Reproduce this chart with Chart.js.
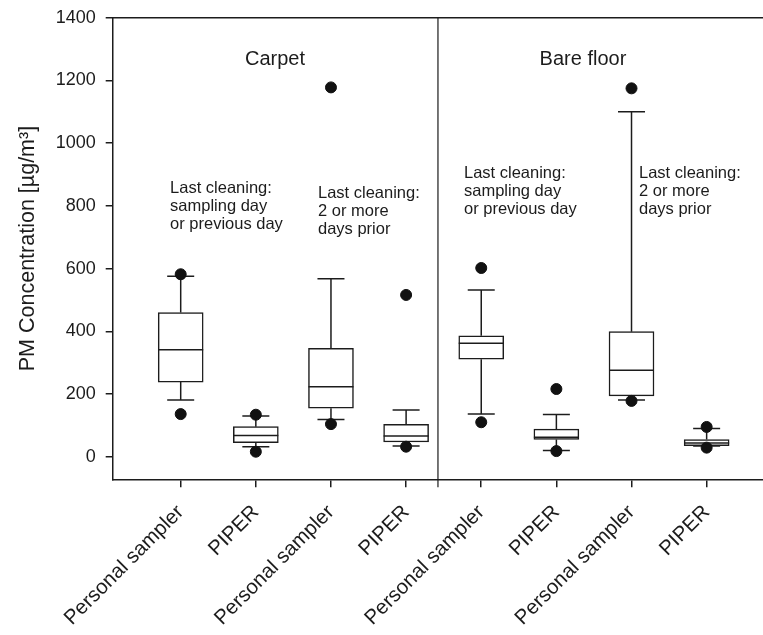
<!DOCTYPE html>
<html>
<head>
<meta charset="UTF-8">
<title>PM concentration - carpet vs bare floor</title>
<script src="https://cdn.jsdelivr.net/npm/chart.js"></script>
<style>
  body { margin: 0; background: #fff; }
  #wrap { width: 763px; height: 635px; }
</style>
</head>
<body>
<div id="wrap"><canvas id="chart" width="763" height="635"></canvas></div>
<script>
// categories along the x axis (one box each)
const categories = ['Personal sampler', 'PIPER', 'Personal sampler', 'PIPER',
                    'Personal sampler', 'PIPER', 'Personal sampler', 'PIPER'];
const positions = [1, 2, 3, 4, 5, 6, 7, 8];

// box statistics (µg/m3)
const whiskerLow  = [181,  32, 119,  34, 136,  20,  181, 34];
const q1          = [238,  45, 155,  47, 311,  55,  194, 35];
const median      = [341,  68, 223,  66, 362,  62,  276, 44];
const q3          = [460,  96, 346, 103, 386,  88,  399, 55];
const whiskerHigh = [576, 130, 568, 149, 532, 135, 1100, 90];
const outlierLow  = [136,  16, 104,  32, 110,  18,  178, 29];
const outlierHigh = [582, 134, 1178, 516, 602, 216, 1175, 95];

const yTicks = [0, 200, 400, 600, 800, 1000, 1200, 1400];

// panel headings and notes
const panelTitles = ['Carpet', 'Bare floor'];
const panelTitleX = [2.255, 6.354];
const panelTitleY = 1268;
const panelSplit = 4.424;
const noteLines = [
    ['Last cleaning:', 'sampling day', 'or previous day'],
    ['Last cleaning:', '2 or more', 'days prior'],
    ['Last cleaning:', 'sampling day', 'or previous day'],
    ['Last cleaning:', '2 or more', 'days prior']
];
const noteX = [0.858, 2.827, 4.770, 7.099];
const noteY = [857, 841, 905, 905];

const FONT = '"Liberation Sans", Arial, Helvetica, sans-serif';
const INK = '#1c1c1c';

// point-style marks (medians, caps) should not shrink the plot area
Chart.registry.getController('scatter').prototype.getMaxOverflow = function () { return 0; };
Chart.registry.getController('line').prototype.getMaxOverflow = function () { return 0; };

const boxData = positions.map((x, i) => ({x: x, y: [q1[i], q3[i]]}));
const medianData = positions.map((x, i) => ({x: x, y: median[i]}));

const capData = [];
const whiskerData = [];
const outlierData = [];
positions.forEach((x, i) => {
    capData.push({x: x, y: whiskerLow[i]}, {x: x, y: whiskerHigh[i]});
    whiskerData.push({x: x, y: whiskerLow[i]}, {x: x, y: q1[i]}, {x: x, y: null});
    whiskerData.push({x: x, y: q3[i]}, {x: x, y: whiskerHigh[i]}, {x: x, y: null});
    outlierData.push({x: x, y: outlierLow[i]}, {x: x, y: outlierHigh[i]});
});

const framePlugin = {
    id: 'frame',
    beforeDatasetsDraw(chart) {
        const {ctx, chartArea: a, scales: {x}} = chart;
        ctx.save();
        ctx.strokeStyle = INK;
        ctx.lineWidth = 1.5;
        ctx.beginPath();
        ctx.moveTo(a.left, a.top);
        ctx.lineTo(a.right, a.top);
        ctx.stroke();
        const sx = x.getPixelForValue(panelSplit);
        ctx.lineWidth = 1.2;
        ctx.beginPath();
        ctx.moveTo(sx, a.top);
        ctx.lineTo(sx, a.bottom + 8);
        ctx.stroke();
        ctx.restore();
    },
    afterDatasetsDraw(chart) {
        const {ctx, scales: {x, y}} = chart;
        ctx.save();
        ctx.fillStyle = INK;
        ctx.textBaseline = 'middle';

        ctx.font = '20px ' + FONT;
        ctx.textAlign = 'center';
        panelTitles.forEach((t, i) => {
            ctx.fillText(t, x.getPixelForValue(panelTitleX[i]), y.getPixelForValue(panelTitleY));
        });

        ctx.font = '16.5px ' + FONT;
        ctx.textAlign = 'left';
        noteLines.forEach((lines, i) => {
            const px = x.getPixelForValue(noteX[i]);
            const py = y.getPixelForValue(noteY[i]);
            lines.forEach((l, j) => ctx.fillText(l, px, py + j * 18));
        });
        ctx.restore();
    }
};

new Chart(document.getElementById('chart'), {
    type: 'bar',
    data: {
        datasets: [
            {
                type: 'scatter',
                data: outlierData,
                pointRadius: 5.5,
                pointBackgroundColor: '#111',
                pointBorderColor: '#111',
                order: 1
            },
            {
                type: 'scatter',
                data: medianData,
                pointStyle: 'line',
                pointRadius: 22.5,
                pointBorderColor: INK,
                pointBorderWidth: 1.5,
                order: 2
            },
            {
                type: 'scatter',
                data: capData,
                pointStyle: 'line',
                pointRadius: 13.5,
                pointBorderColor: INK,
                pointBorderWidth: 1.5,
                order: 2
            },
            {
                type: 'bar',
                data: boxData,
                backgroundColor: '#fff',
                borderColor: INK,
                borderWidth: 1.5,
                borderSkipped: false,
                barThickness: 45,
                order: 3
            },
            {
                type: 'line',
                data: whiskerData,
                borderColor: INK,
                borderWidth: 1.5,
                pointRadius: 0,
                spanGaps: false,
                order: 4
            }
        ]
    },
    options: {
        responsive: false,
        animation: false,
        events: [],
        layout: {padding: {top: 17.8, right: 0, bottom: 0, left: 0}},
        plugins: {
            legend: {display: false},
            tooltip: {enabled: false}
        },
        scales: {
            x: {
                type: 'linear',
                position: 'bottom',
                offset: false,
                min: 0.095,
                max: 8.75,
                afterBuildTicks: s => { s.ticks = positions.map(v => ({value: v})); },
                afterFit: s => { s.height = 155.7; s.paddingLeft = 0; s.paddingRight = 0; },
                ticks: {
                    autoSkip: false,
                    maxRotation: 45,
                    minRotation: 45,
                    padding: 13,
                    color: INK,
                    font: {family: FONT, size: 20.5},
                    callback: v => categories[positions.indexOf(v)]
                },
                grid: {offset: false, drawOnChartArea: false, drawTicks: true, tickLength: 8, color: INK, lineWidth: 1.5},
                border: {color: INK, width: 1.5}
            },
            y: {
                type: 'linear',
                min: -72,
                max: 1400,
                afterBuildTicks: s => { s.ticks = yTicks.map(v => ({value: v})); },
                afterFit: s => { s.width = 112.7; s.paddingTop = 0; s.paddingBottom = 0; },
                ticks: {
                    padding: 10,
                    color: INK,
                    font: {family: FONT, size: 18},
                    callback: v => String(v)
                },
                grid: {drawOnChartArea: false, drawTicks: true, tickLength: 7, color: INK, lineWidth: 1.5},
                border: {color: INK, width: 1.5},
                title: {
                    display: true,
                    text: 'PM Concentration [µg/m³]',
                    color: INK,
                    font: {family: FONT, size: 21.5, lineHeight: 1.2},
                    padding: {top: 15, bottom: 0}
                }
            }
        }
    },
    plugins: [framePlugin]
});
</script>
</body>
</html>
